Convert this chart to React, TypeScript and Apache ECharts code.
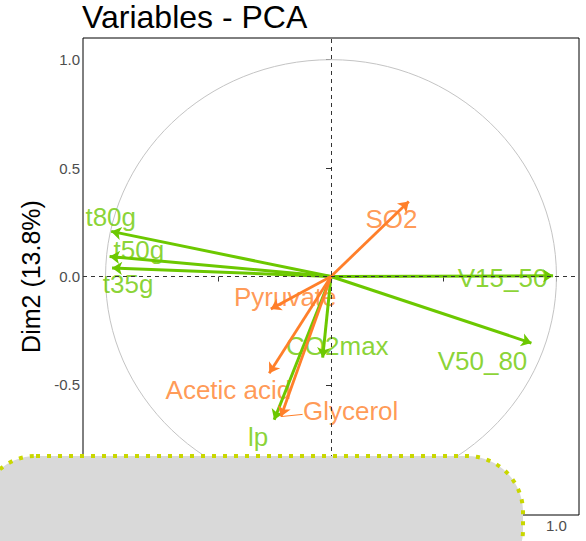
import React, { useEffect, useRef } from "react";
import * as echarts from "echarts";

// Active variables (green) and supplementary variables (orange): PCA coordinates
const greenNames = ["t80g", "t50g", "t35g", "V15_50", "V50_80", "CO2max", "lp"];
const greenX = [-0.975, -0.982, -0.971, 0.985, 0.889, -0.037, -0.252];
const greenY = [0.208, 0.092, 0.039, 0.003, -0.307, -0.374, -0.661];

const orangeNames = ["SO2", "Pyruvate", "Acetic acid", "Glycerol"];
const orangeX = [0.345, -0.267, -0.274, -0.222];
const orangeY = [0.346, -0.15, -0.446, -0.646];

// Repelled label anchors (data units)
const greenLabelX = [-0.977, -0.852, -0.9, 0.761, 0.672, 0.028, -0.323];
const greenLabelY = [0.273, 0.121, -0.034, -0.006, -0.389, -0.32, -0.742];
const orangeLabelX = [0.268, -0.203, -0.455, 0.087];
const orangeLabelY = [0.266, -0.094, -0.523, -0.62];

// Leader segment for the Glycerol label
const glycerolLeader = [
  [-0.222, -0.646],
  [-0.126, -0.636],
];

const tickValues = [-1.0, -0.5, 0.0, 0.5, 1.0];

const GREEN = "#6cc800";
const ORANGE = "#ff7f2a";
const FONT = "'Liberation Sans', Arial, sans-serif";

function arrows(xs: number[], ys: number[]) {
  return xs.map((x, i) => ({ coords: [[0, 0], [x, ys[i]]] }));
}

function labels(names: string[], xs: number[], ys: number[]) {
  return names.map((n, i) => ({ name: n, value: [xs[i], ys[i]] }));
}

export default function App() {
  const ref = useRef<HTMLDivElement>(null);

  useEffect(() => {
    if (!ref.current) return;
    const chart = echarts.init(ref.current, undefined, { renderer: "svg" });

    const axisCommon = {
      type: "value" as const,
      min: -1.1,
      max: 1.1,
      axisLine: { show: false },
      splitLine: { show: false },
      axisTick: {
        show: true,
        length: 5,
        customValues: tickValues,
        lineStyle: { color: "#333", width: 1 },
      },
      axisLabel: {
        customValues: tickValues,
        formatter: (v: number) => v.toFixed(1),
        color: "#4d4d4d",
        fontSize: 15,
        fontFamily: FONT,
        margin: 3,
      },
    };

    const labelSeries = (data: any[], color: string) => ({
      type: "scatter",
      silent: true,
      symbolSize: 1,
      itemStyle: { color: "transparent" },
      label: {
        show: true,
        position: "inside",
        formatter: "{b}",
        color,
        fontSize: 26,
        fontFamily: FONT,
      },
      data,
      z: 1,
    });

    chart.setOption({
      animation: false,
      backgroundColor: "#ffffff",
      title: {
        text: "Variables - PCA",
        left: 82,
        top: 1,
        padding: 0,
        textStyle: {
          fontSize: 32,
          fontWeight: "normal",
          color: "#000",
          fontFamily: FONT,
        },
      },
      grid: {
        left: 83,
        right: 7,
        top: 38,
        bottom: 26,
        show: true,
        borderColor: "#000",
        borderWidth: 1,
        backgroundColor: "transparent",
      },
      xAxis: { ...axisCommon, position: "bottom" },
      yAxis: {
        ...axisCommon,
        name: "Dim2 (13.8%)",
        nameLocation: "middle",
        nameGap: 36,
        nameTextStyle: { fontSize: 25, color: "#000", fontFamily: FONT },
      },
      series: [
        {
          // correlation circle
          type: "custom",
          silent: true,
          data: [[0, 0]],
          renderItem: (_p: any, api: any) => {
            const c = api.coord([0, 0]);
            const s = api.size([1, 1]);
            return {
              type: "ellipse",
              shape: { cx: c[0], cy: c[1], rx: s[0], ry: s[1] },
              style: { fill: "none", stroke: "#c4c4c4", lineWidth: 1 },
            };
          },
          markLine: {
            silent: true,
            symbol: "none",
            label: { show: false },
            lineStyle: { color: "#333", width: 1, type: [4, 4] },
            data: [{ xAxis: 0 }, { yAxis: 0 }],
          },
          z: 1,
        },
        labelSeries(labels(greenNames, greenLabelX, greenLabelY), GREEN),
        labelSeries(labels(orangeNames, orangeLabelX, orangeLabelY), ORANGE),
        {
          type: "lines",
          coordinateSystem: "cartesian2d",
          silent: true,
          symbol: ["none", "arrow"],
          symbolSize: 10,
          lineStyle: { color: GREEN, width: 3, opacity: 1 },
          data: arrows(greenX, greenY),
          z: 2,
        },
        {
          type: "lines",
          coordinateSystem: "cartesian2d",
          silent: true,
          symbol: ["none", "arrow"],
          symbolSize: 10,
          lineStyle: { color: ORANGE, width: 2.8, opacity: 1 },
          data: arrows(orangeX, orangeY),
          z: 3,
        },
        {
          type: "lines",
          coordinateSystem: "cartesian2d",
          silent: true,
          symbol: "none",
          lineStyle: { color: ORANGE, width: 1, opacity: 1 },
          data: [{ coords: glycerolLeader }],
          z: 3,
        },
      ],
      graphic: [
        {
          type: "rect",
          z: 100,
          silent: true,
          shape: { x: -20, y: 456, width: 543, height: 130, r: 56 },
          style: {
            fill: "#d9d9d9",
            stroke: "#c9d700",
            lineWidth: 4,
            lineDash: [4, 7],
          },
        },
      ],
    });

    return () => chart.dispose();
  }, []);

  return (
    <div
      ref={ref}
      style={{ position: "fixed", left: 0, top: 0, width: 586, height: 541 }}
    />
  );
}
